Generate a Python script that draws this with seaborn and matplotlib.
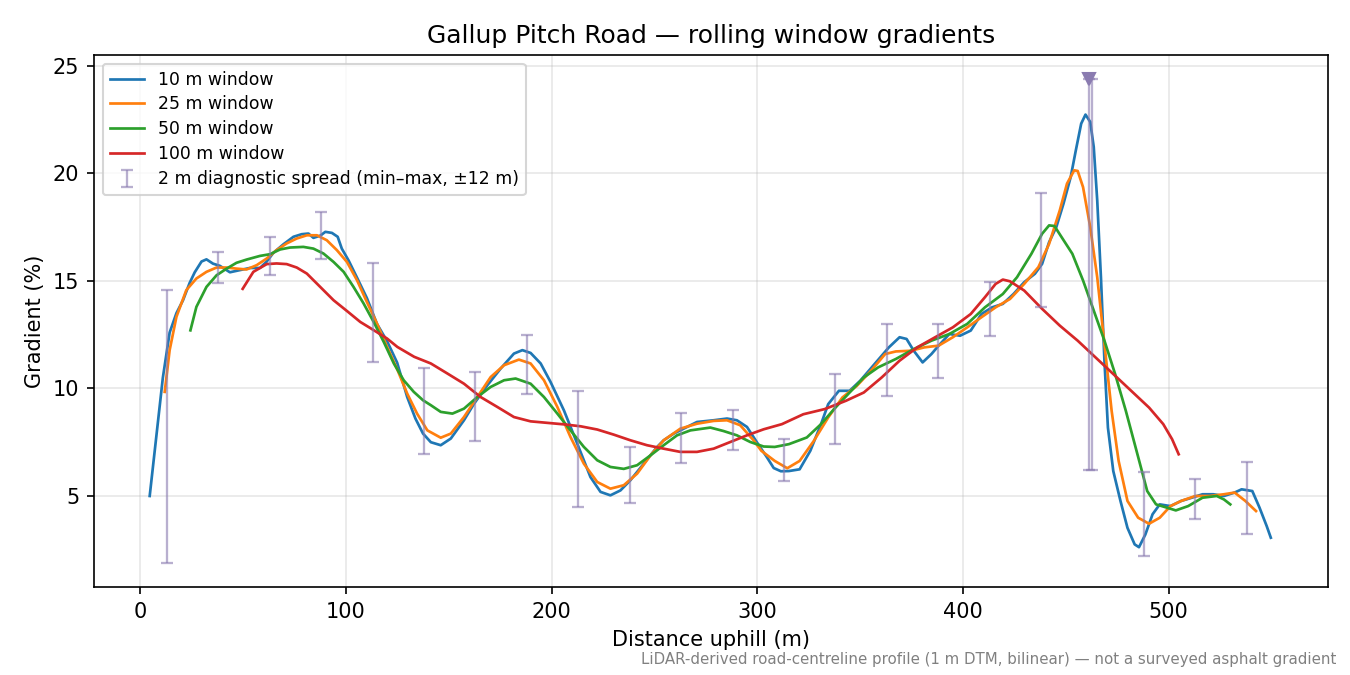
import matplotlib
matplotlib.use('Agg')
import matplotlib.pyplot as plt
import numpy as np
import pandas as pd
import seaborn as sns

# distance (m) / gradient (%)
x10 = [4.6, 8, 11, 14.3, 17.6, 20.8, 24, 26.5, 29.8, 32.2, 35.4, 38.7, 43.6, 48.5, 53.3, 58.2, 61.5,
       64.7, 69.6, 74.5, 78.5, 81.8, 84.2, 87.5, 90, 93.2, 96, 98, 101.3, 105.4, 110.2, 115.1, 120,
       124.9, 129.8, 133.8, 137.5, 141.3, 146.1, 151, 157.4, 162.3, 168.8, 175.2, 181.7, 185.8, 189.8,
       194.7, 199.5, 206, 212.5, 218.9, 223.8, 228.6, 233.5, 238.3, 244.8, 251.3, 254.5, 259.4, 264.2,
       270.7, 278.8, 285.3, 290.1, 295, 299.8, 304.7, 308, 311.5, 315.4, 320.6, 325.8, 331, 334.5,
       339.7, 344.9, 350.1, 357, 364, 369.2, 372.6, 376.1, 380.4, 384.7, 388.2, 393.4, 398.6, 403.8,
       409, 414.2, 419.4, 424.6, 429.8, 435, 438.5, 441.9, 445.4, 448.9, 452.4, 454.9, 457.5, 459.6,
       461.9, 463.6, 465.3, 467.1, 468.8, 470.5, 473.1, 476.6, 480, 483.5, 485.6, 488.7, 492.2, 495.7,
       500.9, 506.1, 511.3, 516.5, 521.7, 526.9, 532.1, 535.5, 540.7, 544.2, 547.7, 549.7]
g10 = [5.0, 7.9, 10.5, 12.6, 13.5, 14.1, 14.9, 15.4, 15.9, 16.0, 15.8, 15.7, 15.4, 15.5, 15.6, 15.6, 15.9,
       16.3, 16.7, 17.05, 17.17, 17.2, 17.0, 17.1, 17.28, 17.23, 17.05, 16.5, 15.95, 15.15, 14.2, 13.0, 12.2,
       11.2, 9.6, 8.6, 7.9, 7.5, 7.36, 7.67, 8.52, 9.29, 10.15, 10.92, 11.62, 11.78, 11.65,
       11.16, 10.3, 8.98, 7.43, 5.88, 5.19, 5.03, 5.26, 5.73, 6.5, 7.28, 7.59, 7.9, 8.13,
       8.44, 8.52, 8.6, 8.52, 8.21, 7.5, 6.8, 6.3, 6.15, 6.16, 6.24, 7.1, 8.34, 9.27,
       9.89, 9.89, 10.36, 11.13, 11.91, 12.38, 12.3, 11.75, 11.21, 11.6, 11.99, 12.53, 12.45, 12.69,
       13.46, 13.77, 13.93, 14.39, 14.94, 15.33, 15.79, 16.8, 17.5, 18.59, 19.83, 21.07, 22.31, 22.73,
       22.39, 21.23, 18.74, 15.17, 11.29, 8.18, 6.16, 4.77, 3.52, 2.75, 2.62, 3.21, 4.15, 4.61,
       4.53, 4.77, 4.92, 5.08, 5.08, 5.0, 5.16, 5.31, 5.23, 4.46, 3.6, 3.06]

x25 = [11.9, 14.3, 17.6, 22.4, 27.3, 32.2, 37.1, 42, 46.8, 51.7, 56.6, 61.5, 66.3, 71.2, 76.1, 81, 85.9,
       90.7, 95.6, 100.5, 105.4, 110.2, 115.1, 120, 124.9, 129.8, 134.6, 139.6, 146.1, 151, 157.4, 163.9,
       170.4, 176.9, 184.1, 189.8, 196.3, 202.8, 209.2, 215.7, 222.2, 228.6, 235.1, 241.6, 248.1, 254.5,
       262.6, 270.7, 278.8, 285.3, 291.7, 298.2, 302, 308.5, 314.6, 320.6, 327.5, 334.5, 341.4, 348.4,
       355.3, 362.2, 367.4, 374.4, 381.3, 388.2, 395.1, 402.1, 409, 415.9, 422.9, 429.8, 436.7, 441.9,
       447.1, 450.6, 454.1, 455.8, 458.4, 461.9, 465.3, 468.8, 472.3, 475.7, 480, 485.2, 490.5, 495.7,
       500.9, 506.1, 513, 520, 526.9, 532.1, 537.3, 542.5]
g25 = [9.84, 11.78, 13.33, 14.57, 15.11, 15.42, 15.62, 15.62, 15.57, 15.53, 15.73, 16.04, 16.43, 16.74,
       16.97, 17.12, 17.12, 16.89, 16.43, 15.88, 15.03, 14.02, 13.02, 11.93, 10.9, 9.76, 8.83, 8.05, 7.71,
       7.9, 8.67, 9.6, 10.53, 11.08, 11.34, 11.16, 10.38, 9.14, 7.74, 6.5, 5.65, 5.34, 5.5, 6.04, 6.89,
       7.59, 8.13, 8.36, 8.49, 8.52, 8.29, 7.59, 7.1, 6.63, 6.29, 6.63, 7.56, 8.65, 9.58, 10.12, 10.82,
       11.6, 11.72, 11.75, 11.91, 11.99, 12.38, 12.84, 13.31, 13.77, 14.16, 14.86, 15.64, 16.72, 18.28,
       19.52, 20.14, 20.11, 19.36, 17.5, 15.17, 12.07, 8.96, 6.63, 4.77, 3.99, 3.71, 3.99, 4.53, 4.77,
       5.0, 5.0, 5.08, 5.16, 4.77, 4.3]

x50 = [24.4, 27.3, 32.2, 37.1, 42, 46.8, 51.7, 58.2, 63.1, 68, 72.8, 79.3, 84.2, 89.1, 94, 98.9, 103.7,
       108.6, 113.5, 118.4, 123.3, 128.1, 133, 137.5, 141.3, 146.1, 151.8, 157.4, 163.9, 170.4, 176.9,
       182.5, 189.8, 196.3, 202.8, 209.2, 215.7, 222.2, 228.6, 235.1, 241.6, 248.1, 254.5, 261, 267.5,
       277.2, 283.6, 290.1, 296.6, 303.1, 308.5, 315.4, 324.1, 331, 338, 344.9, 351.8, 358.8, 367.4,
       376.1, 384.7, 393.4, 402.1, 410.7, 419.4, 426.3, 433.3, 438.5, 441.9, 444.5, 448, 453.2, 458.4,
       463.6, 468.8, 474, 479.2, 484.4, 489.6, 493.9, 499.1, 503.5, 509.5, 516.5, 523.4, 526.9, 530]
g50 = [12.7, 13.79, 14.72, 15.26, 15.57, 15.84, 15.99, 16.16, 16.24, 16.46, 16.55, 16.58, 16.5, 16.27,
       15.88, 15.42, 14.72, 13.95, 13.09, 12.16, 11.16, 10.38, 9.84, 9.45, 9.22, 8.91, 8.83, 9.06, 9.6,
       10.07, 10.38, 10.46, 10.22, 9.6, 8.83, 8.05, 7.28, 6.66, 6.35, 6.26, 6.43, 6.89, 7.36, 7.82, 8.05,
       8.18, 8.02, 7.82, 7.51, 7.3, 7.28, 7.41, 7.72, 8.34, 9.11, 9.81, 10.51, 10.98, 11.37, 11.83,
       12.22, 12.53, 13.0, 13.77, 14.39, 15.17, 16.26, 17.19, 17.58, 17.55, 17.03, 16.26, 15.02, 13.62,
       12.22, 10.67, 8.96, 7.1, 5.23, 4.61, 4.46, 4.33, 4.53, 4.92, 5.0, 4.84, 4.61]

x100 = [49.8, 55, 61.5, 66.3, 71.2, 76.1, 81, 87.5, 94, 100.5, 107, 113.5, 120, 125, 133.2, 141.3, 149.4,
        157.4, 165.5, 173.6, 181.7, 189.8, 197.9, 206, 214.1, 222.2, 230.3, 238.3, 246.4, 254.5, 262.6,
        270.7, 278.8, 286.9, 295, 303.1, 312, 322.4, 332.8, 343.2, 351.8, 360.5, 369.2, 377.8, 386.5,
        395.1, 403.8, 410.7, 415.9, 419.4, 422.9, 429.8, 438.5, 447.1, 455.8, 464.5, 473.1, 481.8, 490.5,
        497.4, 501.7, 504.9]
g100 = [14.63, 15.42, 15.78, 15.81, 15.78, 15.62, 15.34, 14.72, 14.1, 13.6, 13.09, 12.71, 12.32, 11.93,
        11.47, 11.16, 10.69, 10.22, 9.6, 9.14, 8.67, 8.47, 8.4, 8.33, 8.24, 8.09, 7.85, 7.59, 7.36, 7.2,
        7.05, 7.05, 7.2, 7.51, 7.82, 8.1, 8.34, 8.8, 9.04, 9.43, 9.81, 10.51, 11.29, 11.91, 12.38,
        12.84, 13.46, 14.24, 14.86, 15.06, 14.98, 14.55, 13.7, 12.92, 12.22, 11.44, 10.67, 9.89, 9.11,
        8.34, 7.64, 6.94]

# 2 m diagnostic spread, min-max within +-12 m
spread_x = [13, 38, 63, 88, 113, 138, 163, 188, 213, 238, 263, 288, 313, 338, 363, 388, 413, 438,
            461.2, 462.8, 488, 513, 538]
spread_lo = [1.88, 14.9, 15.28, 16.0, 11.23, 6.95, 7.57, 9.74, 4.50, 4.69, 6.53, 7.14, 5.70, 7.44, 9.63,
             10.47, 12.45, 13.8, 6.23, 6.23, 2.2, 3.94, 3.25]
spread_hi = [14.58, 16.35, 17.05, 18.2, 15.85, 10.97, 10.77, 12.49, 9.88, 7.28, 8.88, 9.0, 7.67, 10.67,
             13.0, 13.0, 14.94, 19.08, 24.4, 24.4, 6.13, 5.81, 6.58]
clipped_x = [461.2]
y_top = 24.4

labels = ['10 m window', '25 m window', '50 m window', '100 m window']
colours = ['#1f77b4', '#ff7f0e', '#2ca02c', '#d62728']
spread_col = '#8a7bb0'

df = pd.concat([
    pd.DataFrame({'dist': xs, 'grad': gs, 'window': lab})
    for xs, gs, lab in zip([x10, x25, x50, x100], [g10, g25, g50, g100], labels)
], ignore_index=True)

fig, ax = plt.subplots(figsize=(9, 4.5), dpi=150)
fig.subplots_adjust(left=0.0696, right=0.9837, top=0.9185, bottom=0.1304)

sns.lineplot(data=df, x='dist', y='grad', hue='window', hue_order=labels,
             palette=dict(zip(labels, colours)), estimator=None, sort=False,
             linewidth=1.3, ax=ax)

mid = (np.array(spread_lo) + np.array(spread_hi)) / 2
err = [mid - np.array(spread_lo), np.array(spread_hi) - mid]
ax.errorbar(spread_x, mid, yerr=err, fmt='none', ecolor=spread_col, alpha=0.6,
            elinewidth=1.1, capsize=3, capthick=1.1,
            label='2 m diagnostic spread (min\u2013max, \u00b112 m)')
ax.plot(clipped_x, [y_top], marker='v', color=spread_col, markersize=6, linestyle='none')

ax.set_xlim(-22.5, 577.5)
ax.set_ylim(0.77, 25.5)
ax.grid(True, alpha=0.3)
ax.set_title('Gallup Pitch Road \u2014 rolling window gradients', fontsize=12)
ax.set_xlabel('Distance uphill (m)', fontsize=10)
ax.set_ylabel('Gradient (%)', fontsize=10)
ax.legend(loc='upper left', fontsize=8.3, labelspacing=0.4, title=None)

fig.text(0.99, 0.012, 'LiDAR-derived road-centreline profile (1 m DTM, bilinear) \u2014 not a surveyed asphalt gradient',
         ha='right', va='bottom', fontsize=7.2, color='gray')

fig.savefig('out.png', dpi=150)
